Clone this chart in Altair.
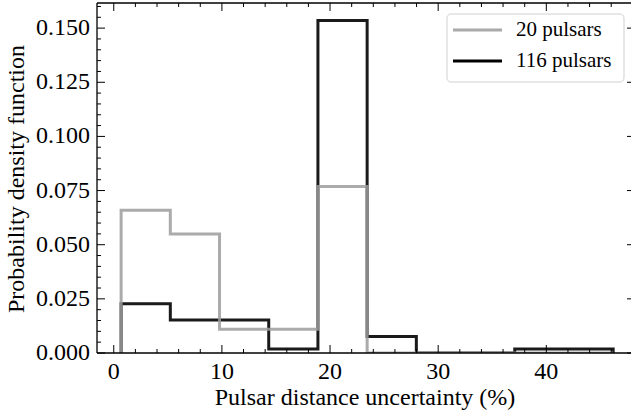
import altair as alt
import pandas as pd

# ---- data ----
edges = [0.68, 5.23, 9.78, 14.33, 18.88, 23.43, 27.98, 32.53, 37.08, 41.63, 46.18]
dens_20 = [0.0659, 0.0549, 0.0110, 0.0110, 0.0769, 0.0, 0.0, 0.0, 0.0, 0.0]
dens_116 = [0.0227, 0.0152, 0.0152, 0.0019, 0.1535, 0.0076, 0.0, 0.0, 0.0019, 0.0019]
series_names = ["20 pulsars", "116 pulsars"]
series_colors = ["#9c9c9c", "#1a1a1a"]
x_title = "Pulsar distance uncertainty (%)"
y_title = "Probability density function"

x_major = [0, 10, 20, 30, 40]
x_minor = [2, 4, 6, 8, 12, 14, 16, 18, 22, 24, 26, 28, 32, 34, 36, 38, 42, 44, 46]
y_major = [0.0, 0.025, 0.05, 0.075, 0.1, 0.125, 0.15]
y_minor = [0.005, 0.01, 0.015, 0.02, 0.03, 0.035, 0.04, 0.045, 0.055, 0.06, 0.065,
           0.07, 0.08, 0.085, 0.09, 0.095, 0.105, 0.11, 0.115, 0.12, 0.13, 0.135,
           0.14, 0.145, 0.155, 0.16]

x_domain = [-1.55, 47.83]
y_domain = [0.0, 0.1616]

W, H = 534, 350
FONT = "Liberation Serif"


def step_rows(name, dens):
    pts = [(edges[0], 0.0)]
    for k, h in enumerate(dens):
        pts.append((edges[k], h))
        pts.append((edges[k + 1], h))
    pts.append((edges[-1], 0.0))
    return [{"series": name, "x": x, "y": y, "ord": i} for i, (x, y) in enumerate(pts)]


df = pd.DataFrame(step_rows(series_names[0], dens_20) + step_rows(series_names[1], dens_116))

xs = alt.Scale(domain=x_domain, nice=False, zero=False)
ys = alt.Scale(domain=y_domain, nice=False, zero=False)
cs = alt.Scale(domain=series_names, range=series_colors)

XQ = dict(scale=xs, axis=None)
YQ = dict(scale=ys, axis=None)

black_line = alt.Chart(df).transform_filter(
    alt.datum.series == series_names[1]
).mark_line(strokeWidth=3, strokeJoin="miter", clip=True).encode(
    x=alt.X("x:Q", **XQ),
    y=alt.Y("y:Q", **YQ),
    order="ord:Q",
    color=alt.Color("series:N", scale=cs, legend=None),
)

gray_line = alt.Chart(df).transform_filter(
    alt.datum.series == series_names[0]
).mark_line(strokeWidth=3, strokeJoin="miter", clip=True, opacity=0.85).encode(
    x=alt.X("x:Q", **XQ),
    y=alt.Y("y:Q", **YQ),
    order="ord:Q",
    color=alt.Color("series:N", scale=cs, legend=None),
)

one = pd.DataFrame({"a": [0]})
spine_w = 1.3
spines = [
    alt.Chart(one).mark_rule(color="black", strokeWidth=spine_w).encode(
        x=alt.value(0), x2=alt.value(W + 4), y=alt.value(0)),
    alt.Chart(one).mark_rule(color="black", strokeWidth=spine_w).encode(
        x=alt.value(0), x2=alt.value(W + 4), y=alt.value(H)),
    alt.Chart(one).mark_rule(color="black", strokeWidth=spine_w).encode(
        x=alt.value(0), y=alt.value(0), y2=alt.value(H)),
]

xmaj = pd.DataFrame({"v": x_major})
xmin = pd.DataFrame({"v": x_minor})
ymaj = pd.DataFrame({"v": y_major})
ymin = pd.DataFrame({"v": y_minor})
MAJ, MIN = 8, 4
RX = W + 4  # virtual right spine (just outside the window)


def xticks(d, ln):
    return [
        alt.Chart(d).mark_rule(color="black", strokeWidth=1).encode(
            x=alt.X("v:Q", **XQ), y=alt.value(H), y2=alt.value(H - ln)),
        alt.Chart(d).mark_rule(color="black", strokeWidth=1).encode(
            x=alt.X("v:Q", **XQ), y=alt.value(0), y2=alt.value(ln)),
    ]


def yticks(d, ln):
    return [
        alt.Chart(d).mark_rule(color="black", strokeWidth=1).encode(
            y=alt.Y("v:Q", **YQ), x=alt.value(0), x2=alt.value(ln)),
        alt.Chart(d).mark_rule(color="black", strokeWidth=1).encode(
            y=alt.Y("v:Q", **YQ), x=alt.value(RX), x2=alt.value(RX - ln)),
    ]


ticks = xticks(xmaj, MAJ) + xticks(xmin, MIN) + yticks(ymaj, MAJ) + yticks(ymin, MIN)

# ---- tick labels and axis titles as text marks ----
LBL = 24
x_labels = alt.Chart(xmaj).mark_text(
    font=FONT, fontSize=LBL, color="black", align="center", baseline="top"
).encode(x=alt.X("v:Q", **XQ), y=alt.value(H + 7), text=alt.Text("v:Q", format="d"))

y_labels = alt.Chart(ymaj).mark_text(
    font=FONT, fontSize=LBL, color="black", align="right", baseline="middle"
).encode(y=alt.Y("v:Q", **YQ), x=alt.value(-7), text=alt.Text("v:Q", format=".3f"))

x_title_layer = alt.Chart(pd.DataFrame({"t": [x_title]})).mark_text(
    font=FONT, fontSize=24, color="black", align="center", baseline="middle"
).encode(text="t:N", x=alt.value(268), y=alt.value(395))

y_title_layer = alt.Chart(pd.DataFrame({"t": [y_title]})).mark_text(
    font=FONT, fontSize=24, color="black", align="center", baseline="middle", angle=270
).encode(text="t:N", x=alt.value(-80), y=alt.value(176))

# ---- manual legend (matplotlib style box) ----
LX0, LX1, LY0, LY1 = 350, 527, 11, 79
legend_box = alt.Chart(one).mark_rect(
    fill="white", stroke="#cccccc", strokeWidth=1, cornerRadius=4, opacity=0.9
).encode(x=alt.value(LX0), x2=alt.value(LX1), y=alt.value(LY0), y2=alt.value(LY1))

legend_layers = [legend_box]
legend_line_colors = ["#aaaaaa", "#000000"]
for i, name in enumerate(series_names):
    ly = 27 + 31 * i
    d = pd.DataFrame({"label": [name]})
    legend_layers.append(
        alt.Chart(d).mark_rule(color=legend_line_colors[i], strokeWidth=3).encode(
            x=alt.value(356), x2=alt.value(405), y=alt.value(ly)))
    legend_layers.append(
        alt.Chart(d).mark_text(
            font=FONT, fontSize=21, color="black", align="left", baseline="middle"
        ).encode(text="label:N", x=alt.value(419), y=alt.value(ly)))

chart = alt.layer(
    black_line, gray_line, *ticks, *spines,
    x_labels, y_labels, x_title_layer, y_title_layer, *legend_layers
).properties(
    width=W, height=H,
    autosize=alt.AutoSizeParams(type="none"),
    padding={"left": 97, "top": 3, "right": 0, "bottom": 64},
    background="white",
).configure_view(stroke=None)

chart.save("out.html", embed_options={"renderer": "svg", "actions": False})
